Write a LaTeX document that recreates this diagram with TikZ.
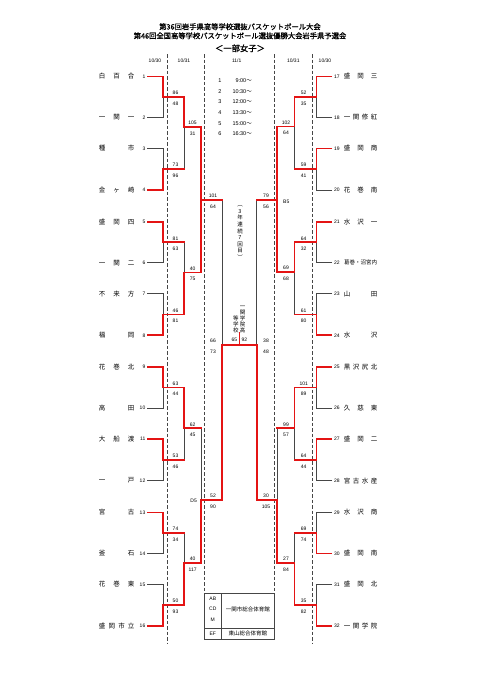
\documentclass[tikz,border=0pt]{standalone}
\usepackage{fontspec}
\setmainfont{Liberation Sans}
\newfontfamily\jp{Noto Sans CJK JP}
\newfontfamily\jpb[FakeBold=1.2]{Noto Sans CJK JP}
\definecolor{wred}{RGB}{228,20,20}
\definecolor{lgray}{RGB}{70,70,70}
\begin{document}
\begin{tikzpicture}[x=1pt,y=-1pt,
 wl/.style={draw=lgray,line width=0.7pt},
 rl/.style={draw=wred,line width=1.7pt,line cap=rect},
 dl/.style={draw=lgray,line width=0.8pt,dash pattern=on 3.5pt off 2pt},
 bx/.style={draw=lgray,line width=0.7pt},
 sc/.style={inner sep=0pt,anchor=base,font=\fontsize{5}{6}\selectfont},
 num/.style={inner sep=0pt,font=\fontsize{5}{6}\selectfont},
 lname/.style={inner sep=0pt,anchor=west,font=\jp\fontsize{6.5}{7}\selectfont},
 jtxt/.style={inner sep=0pt,font=\jp\fontsize{5.5}{6}\selectfont},
]
\useasboundingbox[fill=white] (0,0) rectangle (481,680);

% ---------- titles ----------
\node[inner sep=0pt,font=\jpb\fontsize{7.3}{8}\selectfont] (title1) at (240,26.7) {第36回岩手県高等学校選抜バスケットボール大会};
\node[inner sep=0pt,font=\jpb\fontsize{7.3}{8}\selectfont] (title2) at (240,35.8) {第46回全国高等学校バスケットボール選抜優勝大会岩手県予選会};
\node[inner sep=0pt,font=\jpb\fontsize{8.3}{9}\selectfont] (title3) at (240,48.3) {＜一部女子＞};

% ---------- dates ----------
\foreach \k/\x/\d in {1/155/10\slash 30,2/184/10\slash 31,3/236.7/11\slash 1,4/293.3/10\slash 31,5/325/10\slash 30}
  \node[num] (date\k) at (\x,60.5) {\d};

% ---------- dashed day separators ----------
\coordinate (dA1) at (167,54);  \coordinate (dA2) at (167,643);
\coordinate (dB1) at (204,54);  \coordinate (dB2) at (204,593.3);
\coordinate (dC1) at (274,54);  \coordinate (dC2) at (274,593.3);
\coordinate (dD1) at (312,54);  \coordinate (dD2) at (312,643);
\draw[dl] (dA1) -- (dA2);
\draw[dl] (dB1) -- (dB2);
\draw[dl] (dC1) -- (dC2);
\draw[dl] (dD1) -- (dD2);

% ---------- teams ----------
\foreach \i/\y/\n in {1/76.5/白\hfill 百\hfill 合,2/117.5/一\hfill 関\hfill 一,3/148.5/種\hfill 市,4/190/金\hfill ヶ\hfill 崎,
  5/221.8/盛\hfill 岡\hfill 四,6/262.8/一\hfill 関\hfill 二,7/293.8/不\hfill 来\hfill 方,8/335.3/福\hfill 岡,
  9/367.1/花\hfill 巻\hfill 北,10/408.1/高\hfill 田,11/439.1/大\hfill 船\hfill 渡,12/480.6/一\hfill 戸,
  13/512.4/宮\hfill 古,14/553.4/釜\hfill 石,15/584.4/花\hfill 巻\hfill 東,16/625.9/盛\hfill 岡\hfill 市\hfill 立}{
  \coordinate (Lt\i) at (147,\y);
  \coordinate (Lv\i) at (163,\y);
  \node[num,anchor=east] (Ln\i) at (145.5,\y) {\i};
  \node[lname] (Lname\i) at (98.75,\y) {\makebox[35.5pt]{\n}};
}
\foreach \i/\y/\n in {1/76.5/盛\hfill 岡\hfill 三,2/117.5/一\hfill 関\hfill 修\hfill 紅,3/148.5/盛\hfill 岡\hfill 商,4/190/花\hfill 巻\hfill 南,
  5/221.8/水\hfill 沢\hfill 一,6/262.8/{\fontsize{5.5}{6}\selectfont 葛巻・沼宮内},7/293.8/山\hfill 田,8/335.3/水\hfill 沢,
  9/367.1/黒\hfill 沢\hfill 尻\hfill 北,10/408.1/久\hfill 慈\hfill 東,11/439.1/盛\hfill 岡\hfill 二,12/480.6/宮\hfill 古\hfill 水\hfill 産,
  13/512.4/水\hfill 沢\hfill 商,14/553.4/盛\hfill 岡\hfill 南,15/584.4/盛\hfill 岡\hfill 北,16/625.9/一\hfill 関\hfill 学\hfill 院}{
  \pgfmathtruncatemacro\k{\i+16}
  \coordinate (Rt\i) at (332,\y);
  \coordinate (Rv\i) at (316.5,\y);
  \node[num,anchor=west] (Rn\i) at (334,\y) {\k};
  \node[lname] (Rname\i) at (343.75,\y) {\makebox[33.5pt]{\n}};
}

% ---------- bracket coordinates ----------
\foreach \m/\y in {1/97,2/169.25,3/242.3,4/314.55,5/387.6,6/459.85,7/532.9,8/605.15}{
  \coordinate (L1j\m) at (163,\y);   \coordinate (L1o\m) at (184,\y);
  \coordinate (R1j\m) at (316.5,\y); \coordinate (R1o\m) at (294.5,\y);
}
\foreach \m/\yl/\yr in {1/127/126.5,2/272.5/272,3/428.3/428.3,4/563/563}{
  \coordinate (L2j\m) at (184,\yl);   \coordinate (L2o\m) at (201,\yl);
  \coordinate (R2j\m) at (294.5,\yr); \coordinate (R2o\m) at (277,\yr);
}
\coordinate (L3j1) at (201,200); \coordinate (L3o1) at (222,200);
\coordinate (L3j2) at (201,500); \coordinate (L3o2) at (222,500);
\coordinate (R3j1) at (277,200); \coordinate (R3o1) at (256.7,200);
\coordinate (R3j2) at (277,500); \coordinate (R3o2) at (256.7,500);
\coordinate (LSj) at (222,345);
\coordinate (RSj) at (256.7,345);
\coordinate (C) at (239.5,345);
\coordinate (Ctop) at (239.5,332);

% ---------- losing paths (thin) ----------
\foreach \i/\m in {2/1,3/2,6/3,7/4,10/5,12/6,14/7,15/8}
  \draw[wl] (Lt\i) -- (Lv\i) -- (L1j\m);
\foreach \i/\m in {2/1,4/2,6/3,7/4,10/5,12/6,13/7,15/8}
  \draw[wl] (Rt\i) -- (Rv\i) -- (R1j\m);
\foreach \a/\m in {2/1,3/2,6/3,7/4}{
  \draw[wl] (L1o\a) -- (L2j\m);
}
\foreach \a/\m in {2/1,4/2,6/3,7/4}{
  \draw[wl] (R1o\a) -- (R2j\m);
}
\draw[wl] (L2o3) -- (L3j2);
\draw[wl] (R2o3) -- (R3j2);
\draw[wl] (L3o1) -- (LSj);
\draw[wl] (R3o1) -- (RSj);

% ---------- winning paths (red) ----------
\foreach \i/\m in {1/1,4/2,5/3,8/4,9/5,11/6,13/7,16/8}
  \draw[rl,line cap=butt] (Lt\i) -- (Lv\i) -- (L1j\m);
\foreach \i/\m in {1/1,3/2,5/3,8/4,9/5,11/6,14/7,16/8}
  \draw[rl,line cap=butt] (Rt\i) -- (Rv\i) -- (R1j\m);
\foreach \m in {1,...,8}{
  \draw[rl] (L1j\m) -- (L1o\m);
  \draw[rl] (R1j\m) -- (R1o\m);
}
\foreach \a/\m in {1/1,4/2,5/3,8/4}
  \draw[rl] (L1o\a) -- (L2j\m);
\foreach \a/\m in {1/1,3/2,5/3,8/4}
  \draw[rl] (R1o\a) -- (R2j\m);
\foreach \m in {1,...,4}{
  \draw[rl] (L2j\m) -- (L2o\m);
  \draw[rl] (R2j\m) -- (R2o\m);
}
\draw[rl] (L2o1) -- (L3j1);
\draw[rl] (L2o2) -- (L3j1);
\draw[rl] (L2o4) -- (L3j2);
\draw[rl] (R2o1) -- (R3j1);
\draw[rl] (R2o2) -- (R3j1);
\draw[rl] (R2o4) -- (R3j2);
\draw[rl] (L3j1) -- (L3o1);
\draw[rl] (L3j2) -- (L3o2);
\draw[rl] (R3j1) -- (R3o1);
\draw[rl] (R3j2) -- (R3o2);
\draw[rl] (L3o2) -- (LSj);
\draw[rl] (R3o2) -- (RSj);
\draw[rl] (LSj) -- (C);
\draw[rl] (RSj) -- (C);
\draw[rl,line cap=butt] (C) -- (Ctop);

% ---------- scores ----------
\foreach \m/\y/\a/\b in {1/97/86/48,2/169.25/73/96,3/242.3/81/63,4/314.55/46/81,5/387.6/63/44,6/459.85/53/46,7/532.9/74/34,8/605.15/50/93}{
  \node[sc] (sLa\m) at (175.5,\y-2.3) {\a};
  \node[sc] (sLb\m) at (175.5,\y+8.3) {\b};
}
\foreach \m/\y/\a/\b in {1/97/52/35,2/169.25/59/41,3/242.3/64/32,4/314.55/61/80,5/387.6/101/89,6/459.85/64/44,7/532.9/69/74,8/605.15/35/82}{
  \node[sc] (sRa\m) at (303.7,\y-2.3) {\a};
  \node[sc] (sRb\m) at (303.7,\y+8.3) {\b};
}
\foreach \m/\y/\a/\b in {1/127/105/31,2/272.5/40/75,3/428.3/62/45,4/563/40/117}{
  \node[sc] (tLa\m) at (192.6,\y-2.3) {\a};
  \node[sc] (tLb\m) at (192.6,\y+8.3) {\b};
}
\foreach \m/\y/\a/\b in {1/126.5/102/64,2/272/69/68,3/428.3/99/57,4/563/27/84}{
  \node[sc] (tRa\m) at (286,\y-2.3) {\a};
  \node[sc] (tRb\m) at (286,\y+8.3) {\b};
}
\foreach \m/\y/\a/\b in {1/200/101/64,2/500/52/90,3/345/66/73}{
  \node[sc] (uLa\m) at (213,\y-2.3) {\a};
  \node[sc] (uLb\m) at (213,\y+8.3) {\b};
}
\foreach \m/\y/\a/\b in {1/200/79/56,2/500/30/105,3/345/38/48}{
  \node[sc] (uRa\m) at (266,\y-2.3) {\a};
  \node[sc] (uRb\m) at (266,\y+8.3) {\b};
}
\node[sc] (finL) at (234.3,341.8) {65};
\node[sc] (finR) at (244.3,341.8) {92};
\node[num,anchor=west] (codeB) at (283,201.7) {B5};
\node[num,anchor=east] (codeD) at (197,500.7) {D5};

% ---------- schedule ----------
\foreach \i/\tm in {1/9:00,2/10:30,3/12:00,4/13:30,5/15:00,6/16:30}{
  \pgfmathsetmacro\yy{82.7+10.6*(\i-1)}
  \node[inner sep=0pt,anchor=base,font=\fontsize{5.5}{6}\selectfont] (sn\i) at (220,\yy) {\i};
  \node[inner sep=0pt,anchor=base east,font=\fontsize{5.5}{6}\selectfont] (st\i) at (252,\yy) {\tm{\jp ～}};
}

% ---------- centre texts ----------
\node[jtxt,align=center,font=\jp\fontsize{5.5}{6.6}\selectfont] (streak) at (240,232.5) {︵\\3\\年\\連\\続\\7\\回\\目\\︶};
\node[jtxt,align=center,anchor=south] (champR) at (242.5,333.5) {一\\関\\学\\院\\高};
\node[jtxt,align=center,anchor=south] (champL) at (235.8,333.5) {等\\学\\校};

% ---------- venue box ----------
\coordinate (b1) at (204,593.3); \coordinate (b2) at (274,639);
\coordinate (bv1) at (221.7,593.3); \coordinate (bv2) at (221.7,639);
\coordinate (bh1) at (204,628.3); \coordinate (bh2) at (274,628.3);
\draw[bx] (b1) rectangle (b2);
\draw[bx] (bv1) -- (bv2);
\draw[bx] (bh1) -- (bh2);
\node[num] (vAB) at (212.8,598.8) {AB};
\node[num] (vCD) at (212.8,608.5) {CD};
\node[num] (vM) at (212.8,619.5) {M};
\node[num] (vEF) at (212.8,633.7) {EF};
\node[jtxt] (venue1) at (247.8,609) {一関市総合体育館};
\node[jtxt] (venue2) at (247.8,633.7) {東山総合体育館};
\end{tikzpicture}
\end{document}
